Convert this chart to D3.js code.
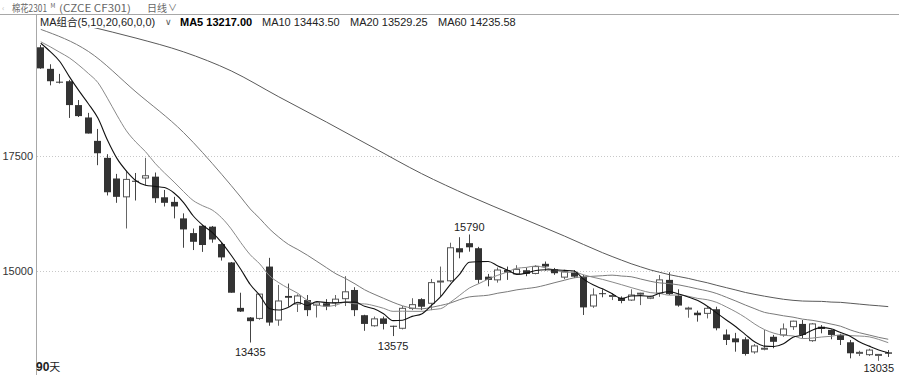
<!DOCTYPE html>
<html>
<head>
<meta charset="utf-8">
<script src="https://cdn.jsdelivr.net/npm/d3@7"></script>
<style>
  html, body { margin: 0; padding: 0; background: #fff; }
  svg { display: block; font-family: "Liberation Sans", Arial, sans-serif; }
</style>
</head>
<body>
<svg id="chart" width="899" height="375"></svg>
<script>
// ---------------- data
const days = 90;
const opens = [19870,19400,19120,19130,18610,18340,17830,17460,17010,16610,
  16960,17020,17050,16600,16500,16140,15820,15980,15960,15580,
  15180,14190,13980,13960,15090,13925,14450,14275,14360,14250,
  14290,14300,14390,14580,14030,13800,13960,13800,13745,14180,
  14380,14290,14760,14780,15490,15600,15490,14870,14800,15015,
  14930,15010,14940,15150,15030,14860,14960,14870,14230,14510,
  14450,14410,14360,14500,14400,14510,14800,14455,14180,14085,
  14070,14160,13610,13525,13505,13230,13300,13560,13600,13780,
  13840,13475,13780,13710,13600,13440,13200,13170,13160,13220];
const closes = [19410,19130,19100,18610,18370,17990,17560,16710,16610,16990,
  16940,17070,16580,16480,16400,15900,15630,15560,15680,15290,
  14520,14110,13900,14490,13870,14340,14410,14450,14140,14300,
  14220,14380,14540,14140,13840,13950,13840,13790,14180,14260,
  14215,14740,14775,15500,15400,15510,14800,14800,15015,14960,
  15030,14930,15090,15090,14945,14980,14870,14200,14470,14500,
  14460,14340,14470,14510,14430,14800,14490,14240,14185,14030,
  14180,13745,13490,13440,13185,13360,13310,13450,13730,13900,
  13600,13840,13730,13600,13490,13200,13220,13270,13175,13190];
const highs = [19920,19500,19290,19160,18720,18440,18090,17540,17110,17180,
  17130,17460,17140,16760,16610,16250,15920,16000,15975,15610,
  15190,14520,13990,14490,15280,14690,14720,14485,14470,14310,
  14380,14470,14880,14640,14040,14000,14000,13800,14230,14400,
  14400,14820,15090,15610,15730,15790,15520,14930,15070,15090,
  15120,15070,15120,15200,15060,15020,15015,14910,14615,14595,
  14510,14440,14595,14520,14450,14905,14965,14595,14215,14130,
  14215,14215,13720,13645,13550,13400,13710,13600,13850,13910,
  13925,13860,13815,13720,13625,13490,13255,13300,13185,13270];
const lows = [19400,19040,19080,18330,18350,17990,17300,16640,16480,15920,
  16530,16860,16480,16400,16140,15500,15450,15410,15610,15220,
  14520,14100,13435,13930,13800,13800,14215,14100,14010,13980,
  14140,14215,14230,14010,13690,13780,13720,13575,13720,14140,
  14140,14140,14430,14750,15270,15415,14720,14660,14740,14800,
  14910,14880,14920,15000,14910,14815,14840,14035,14190,14420,
  14360,14290,14340,14250,14380,14430,14470,14215,13975,13890,
  13960,13700,13380,13235,13150,13190,13265,13310,13560,13710,
  13525,13450,13635,13505,13380,13090,13140,13140,13035,13120];

// MA values before a full window exists
const ma5Lead = [19957, 19775, 19560, 19230];                 // days 0-3
const ma10Lead = [19990, 19880, 19760, 19640, 19480, 19300, 19100, 18760, 18390]; // days 0-8
const ma20Lead = [20260, 19780, 18896, 18011];                // days 0,5,10,15
const ma60Lead = [20590, 20330, 20070, 19770, 19355, 18790,
  18240, 17675, 17115, 16630, 16190, 15755];                  // days 0..55 step 5

const yTicks = [15000, 17500];
const lowMarks = [22, 37, 88];
const highMarks = [45];
const legendNames = ["MA5", "MA10", "MA20", "MA60"];
const legendValues = ["13217.00", "13443.50", "13529.25", "14235.58"];

// ---------------- setup
const W = 899, H = 375;
const svg = d3.select("#chart");

const x = d3.scaleBand().domain(d3.range(days)).range([36, 893]);
const y = d3.scaleLinear().domain([12792, 20312]).range([372, 27]);
const cx = i => x(i) + x.step() / 2;

svg.append("defs").append("clipPath").attr("id", "plotClip")
  .append("rect").attr("x", 37).attr("y", 28).attr("width", W - 37).attr("height", H - 28);

// ---------------- header
const head = svg.append("g").attr("fill", "#666").attr("font-size", 10)
  .style("font-family", '"Noto Sans CJK SC", sans-serif');
head.append("text").attr("x", 2).attr("y", 11).attr("font-size", 8).attr("fill", "#bbb").text("‹");
const ht = head.append("text").attr("x", 12).attr("y", 11.5);
ht.append("tspan").attr("textLength", 35).attr("lengthAdjust", "spacingAndGlyphs").text("棉花2301");
ht.append("tspan").attr("x", 50.5).attr("dy", -4).attr("font-size", 6).text("M");
ht.append("tspan").attr("x", 59).attr("dy", 4)
  .attr("textLength", 72).attr("lengthAdjust", "spacingAndGlyphs").text("(CZCE CF301)");
head.append("text").attr("x", 147).attr("y", 11.5).text("日线");
head.append("text").attr("x", 168).attr("y", 11).attr("font-size", 9).text("∨");

svg.append("line").attr("x1", 0).attr("x2", W).attr("y1", 14.5).attr("y2", 14.5)
  .attr("stroke", "#a8a8a8");
svg.append("line").attr("x1", 36.5).attr("x2", 36.5).attr("y1", 14.5).attr("y2", H)
  .attr("stroke", "#a8a8a8");

// ---------------- grid + y labels
svg.selectAll(".grid").data(yTicks).join("line")
  .attr("class", "grid")
  .attr("x1", 37).attr("x2", W)
  .attr("y1", d => Math.round(y(d)) + 0.5).attr("y2", d => Math.round(y(d)) + 0.5)
  .attr("stroke", "#c8c8c8").attr("stroke-dasharray", "1,2");

svg.selectAll(".ylab").data(yTicks).join("text")
  .attr("class", "ylab")
  .attr("x", 33).attr("y", d => y(d))
  .attr("dy", "0.35em")
  .attr("text-anchor", "end")
  .attr("font-size", 11).attr("fill", "#333")
  .text(d => d);

// ---------------- legend
const leg = svg.append("g").attr("font-size", 11).attr("fill", "#222");
const t0 = leg.append("text").attr("x", 40).attr("y", 26);
t0.append("tspan").text("MA");
t0.append("tspan").style("font-family", '"Noto Sans CJK SC", sans-serif').attr("font-size", 10.5).text("组合");
t0.append("tspan").text("(5,10,20,60,0,0)");
leg.append("text").attr("x", 165).attr("y", 25).attr("font-size", 9).attr("fill", "#555").text("∨");
const legX = [180, 262, 350, 438];
legendNames.forEach((n, k) => {
  leg.append("text").attr("x", legX[k]).attr("y", 26)
    .attr("font-weight", k === 0 ? "bold" : "normal")
    .attr("fill", k === 0 ? "#000" : "#222")
    .text(n + " " + legendValues[k]);
});

// ---------------- candles
const candles = d3.range(days).map(i => ({
  i, o: opens[i], c: closes[i], h: highs[i], l: lows[i]
}));

const g = svg.append("g").attr("clip-path", "url(#plotClip)");

const cg = g.selectAll(".candle").data(candles).join("g").attr("class", "candle");
cg.each(function (d) {
  const sel = d3.select(this);
  const left = Math.round(cx(d.i) - 3.5);
  const up = d.c > d.o;
  sel.append("line")
    .attr("x1", left + 3.5).attr("x2", left + 3.5)
    .attr("y1", y(d.h)).attr("y2", y(d.l))
    .attr("stroke", up ? "#666" : "#444");
  const top = y(Math.max(d.o, d.c));
  const bot = y(Math.min(d.o, d.c));
  const hgt = Math.max(1, bot - top);
  if (up) {
    sel.append("rect")
      .attr("x", left + 0.5).attr("y", top).attr("width", 6).attr("height", hgt)
      .attr("fill", "#fff").attr("stroke", "#555");
  } else {
    sel.append("rect")
      .attr("x", left).attr("y", top).attr("width", 7).attr("height", hgt)
      .attr("fill", "#333");
  }
});

// ---------------- moving averages
function maPoints(n, lead, step) {
  const pts = lead.map((v, k) => ({ i: k * step, v }));
  for (let i = n - 1; i < days; i++) {
    pts.push({ i, v: d3.mean(closes.slice(i - n + 1, i + 1)) });
  }
  return pts;
}
const maSpecs = [
  { pts: maPoints(60, ma60Lead, 5), color: "#5a5a5a", w: 1 },
  { pts: maPoints(20, ma20Lead, 5), color: "#7a7a7a", w: 1 },
  { pts: maPoints(10, ma10Lead, 1), color: "#8a8a8a", w: 1 },
  { pts: maPoints(5, ma5Lead, 1), color: "#111", w: 1.1 }
];
const line = d3.line().x(d => cx(d.i)).y(d => y(d.v)).curve(d3.curveMonotoneX);
g.selectAll(".ma").data(maSpecs).join("path")
  .attr("class", "ma")
  .attr("d", d => line(d.pts))
  .attr("fill", "none")
  .attr("stroke", d => d.color)
  .attr("stroke-width", d => d.w);

// ---------------- extreme labels
const marks = svg.append("g").attr("font-size", 11).attr("fill", "#222").attr("text-anchor", "middle");
lowMarks.forEach(i => {
  marks.append("text").attr("x", cx(i)).attr("y", Math.min(y(lows[i]) + 13.5, 372)).text(lows[i]);
});
highMarks.forEach(i => {
  marks.append("text").attr("x", cx(i)).attr("y", y(highs[i]) - 3).text(highs[i]);
});

// ---------------- period label
const pl = svg.append("text").attr("x", 36).attr("y", 371).attr("font-size", 12)
  .attr("font-weight", "bold").attr("fill", "#222");
pl.append("tspan").text("90");
pl.append("tspan").style("font-family", '"Noto Sans CJK SC", sans-serif')
  .attr("font-weight", "normal").attr("font-size", 11).text("天");
</script>
</body>
</html>
